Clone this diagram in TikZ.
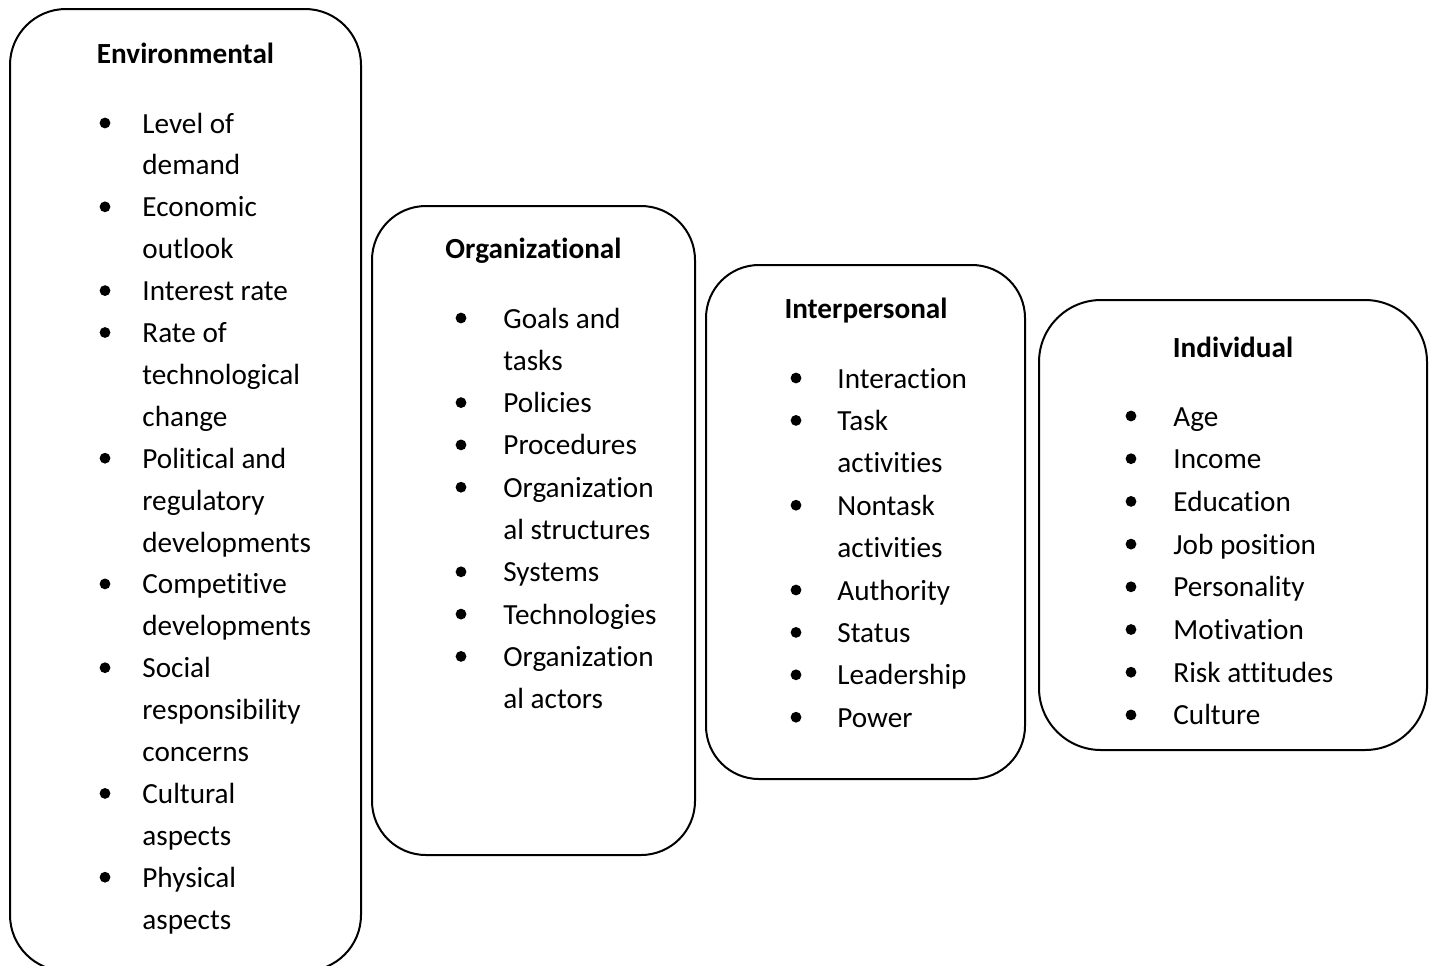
\documentclass[tikz,border=0pt]{standalone}
\usepackage{fontspec}
\setmainfont{Carlito}[Ligatures=NoCommon]
\tikzset{
  box/.style={draw=black, line width=1pt},
  itm/.style={anchor=base west, inner sep=0pt, font=\fontsize{14.6}{17}\selectfont},
  hd/.style={anchor=base, inner sep=0pt, font=\fontsize{14.6}{17}\selectfont\bfseries},
}
\begin{document}
\begin{tikzpicture}[x=0.5pt,y=-0.5pt]
\useasboundingbox (0,0) rectangle (1434,965);
\clip (0,0) rectangle (1434,965);
% boxes
\draw[box, rounded corners=28pt] (10,9) rectangle (361,971);
\draw[box, rounded corners=27pt] (372,206) rectangle (695,855);
\draw[box, rounded corners=26.5pt] (706,265) rectangle (1025,779);
\draw[box, rounded corners=31pt] (1039,300) rectangle (1427,750);
% Environmental
\node[hd] (eh) at (185.5,63) {Environmental};
\foreach \t [count=\i from 0] in {Level of,demand,Economic,outlook,Interest rate,Rate of,technological,change,Political and,regulatory,developments,Competitive,developments,Social,responsibility,concerns,Cultural,aspects,Physical,aspects}
  {\node[itm] (e\i) at (142,133+41.9*\i) {\t};}
\foreach \i in {0,2,4,5,8,11,13,16,18}
  {\fill (105,123+41.9*\i) circle (2.7pt);}
% Organizational
\node[hd] (oh) at (533.5,258) {Organizational};
\foreach \t [count=\i from 0] in {Goals and,tasks,Policies,Procedures,Organization,al structures,Systems,Technologies,Organization,al actors}
  {\node[itm] (o\i) at (503,328+42.3*\i) {\t};}
\foreach \i in {0,2,3,4,6,7,8}
  {\fill (461,318+42.3*\i) circle (2.7pt);}
% Interpersonal
\node[hd] (ph) at (866,318) {Interpersonal};
\foreach \t [count=\i from 0] in {Interaction,Task,activities,Nontask,activities,Authority,Status,Leadership,Power}
  {\node[itm] (p\i) at (837,388+42.4*\i) {\t};}
\foreach \i in {0,1,3,5,6,7,8}
  {\fill (796,378+42.4*\i) circle (2.7pt);}
% Individual
\node[hd] (ih) at (1233,357) {Individual};
\foreach \t [count=\i from 0] in {Age,Income,Education,Job position,Personality,Motivation,Risk attitudes,Culture}
  {\node[itm] (n\i) at (1173,426+42.7*\i) {\t};}
\foreach \i in {0,...,7}
  {\fill (1131,416+42.7*\i) circle (2.7pt);}
\end{tikzpicture}
\end{document}
